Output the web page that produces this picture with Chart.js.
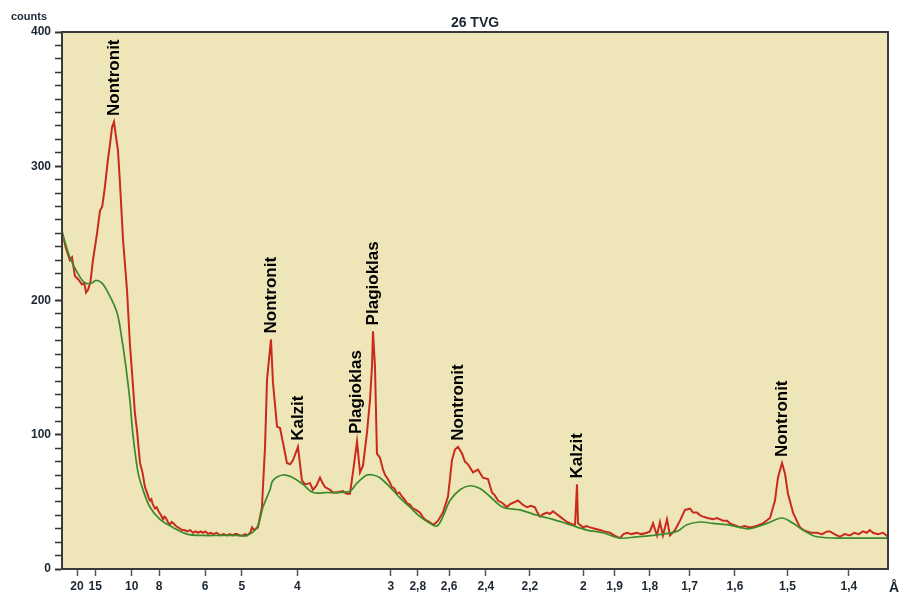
<!DOCTYPE html>
<html>
<head>
<meta charset="utf-8">
<title>26 TVG</title>
<script src="https://cdn.jsdelivr.net/npm/chart.js@4.4.1/dist/chart.umd.min.js"></script>
<style>
  html, body { margin: 0; padding: 0; background: #fff; }
  #wrap { width: 901px; height: 598px; }
</style>
</head>
<body>
<div id="wrap"><canvas id="xrd"></canvas></div>
<script>
// measured pattern (2-theta in degrees, counts)
var measured2T = [3.20,3.52,3.84,4.01,4.25,4.49,4.81,5.00,5.14,5.30,5.50,5.70,6.03,6.27,6.45,6.67,6.91,7.10,7.24,7.40,7.56,7.72,7.88,8.13,8.45,8.69,8.93,9.09,9.26,9.50,9.70,9.90,
  10.10,10.20,10.31,10.42,10.50,10.60,10.71,10.85,11.00,11.20,11.36,11.48,11.60,11.75,11.92,12.05,12.20,12.40,12.57,12.75,12.90,13.10,13.30,13.55,13.78,14.00,14.20,14.40,14.59,14.80,15.00,15.20,15.40,15.70,16.00,16.25,16.53,16.75,17.00,17.15,17.33,17.55,17.80,18.00,18.14,18.40,18.55,18.70,19.03,
  19.35,19.60,19.76,20.08,20.24,20.57,20.81,21.05,21.37,21.62,21.86,22.26,22.58,22.83,23.23,23.47,23.75,24.04,24.25,24.44,24.85,25.10,25.41,25.90,26.20,26.46,26.70,27.03,27.27,27.51,27.83,28.08,28.24,28.32,28.48,28.64,28.88,
  29.13,29.30,29.45,29.65,29.85,30.05,30.26,30.45,30.66,30.85,31.07,31.30,31.55,31.80,32.12,32.40,32.68,32.90,33.17,33.35,33.57,33.97,34.38,34.70,34.94,35.19,35.51,35.75,35.99,36.40,36.80,37.20,37.61,
  37.93,38.15,38.42,38.80,39.14,39.35,39.55,39.80,40.03,40.40,40.76,41.10,41.40,41.60,41.81,42.10,42.38,42.60,42.86,43.15,43.42,43.70,43.99,44.47,44.64,44.80,44.88,
  45.28,45.55,45.85,46.25,46.66,47.00,47.46,47.80,48.27,48.55,48.84,49.20,49.64,50.00,50.45,50.69,50.94,51.26,51.50,51.74,52.07,52.31,52.71,53.12,53.52,53.93,54.17,
  54.49,54.75,54.98,55.35,55.78,56.10,56.35,56.60,56.91,57.15,57.40,57.70,57.96,58.35,58.77,59.30,59.82,60.39,60.79,61.03,61.36,61.60,61.84,
  62.25,62.50,62.81,63.10,63.38,63.70,64.18,64.60,65.00,65.23,65.60,66.04,66.40,66.85,67.20,67.55,67.90,68.20,68.45,68.71,69.10,69.52,69.92];
var measuredCounts = [251,239,230,232,218,216,212,213,206,208,214,230,250,267,270,285,305,318,329,333,322,312,288,245,208,167,137,116,103,79,72,61,
  56,53,51,52,49,47,45,46,43,40,37,39,38,35,33,35,34,32,31,30,29,29,28,29,27,28,27,28,27,28,26,27,26,27,25,26,25,26,25,26,26,25,25,26,25,27,31,29,31,
  46,91,141,171,139,106,105,94,79,78,81,91,66,63,64,59,62,68,64,61,59,57,57,58,56,56,72,95,72,77,101,126,151,177,151,86,83,
  74,70,68,65,61,60,56,57,54,52,49,48,45,44,42,38,36,35,33,34,36,42,54,81,89,91,86,80,78,72,74,68,67,
  57,55,51,49,46,48,49,50,51,48,46,47,46,42,39,41,42,41,43,41,39,37,35,33,33,63,34,
  31,32,31,30,29,28,27,25,23,26,27,26,27,26,27,28,34,25,35,25,37,25,29,36,44,45,42,
  42,40,39,38,37,38,37,36,36,34,33,32,31,32,31,32,34,38,51,68,79,71,56,
  42,37,31,29,28,27,27,26,28,28,26,24,26,25,27,26,28,27,29,27,26,27,24];

// background curve
var background2T = [3.20,3.84,4.49,5.06,5.62,5.94,6.43,6.91,7.64,8.04,8.37,8.69,8.93,9.34,9.74,10.31,11.11,12.16,13.30,14.59,15.96,17.33,18.14,18.95,19.43,20.00,20.24,21.05,21.86,22.67,23.47,24.60,25.65,26.46,27.03,27.83,28.32,28.88,29.69,30.50,31.31,32.12,32.92,33.49,33.97,34.54,35.35,36.15,36.96,37.77,38.82,40.19,41.57,42.86,44.23,45.61,46.90,48.27,49.64,50.94,52.88,53.68,54.73,55.78,56.91,57.96,58.77,60.15,61.36,62.25,63.05,64.18,66.85,69.03,69.92];
var backgroundCounts = [251,232,220,213,213,215,213,206,191,171,150,125,100,72,59,46,37,31,26,25,25,25,25,31,46,59,66,70,68,63,57,57,57,58,64,70,70,68,61,53,46,39,34,32,39,51,59,62,60,54,46,44,40,37,33,29,27,23,24,25,28,33,35,34,33,31,30,34,38,34,29,24,23,23,23];

// d-spacing tick labels (Å)
var dTicks = [20, 15, 10, 8, 6, 5, 4, 3, 2.8, 2.6, 2.4, 2.2, 2, 1.9, 1.8, 1.7, 1.6, 1.5, 1.4];

// mineral labels over peaks
var peakNames = ['Nontronit', 'Nontronit', 'Kalzit', 'Plagioklas', 'Plagioklas', 'Nontronit', 'Kalzit', 'Nontronit'];
var peak2T = [7.40, 20.08, 22.26, 26.95, 28.32, 35.19, 44.80, 61.36];
var peakCounts = [333, 171, 91, 96, 177, 91, 63, 79];

var LAMBDA = 1.5406; // Cu K-alpha
function twoTheta(d) {
  return 2 * Math.asin(LAMBDA / (2 * d)) * 180 / Math.PI;
}

function pairs(xs, ys) {
  return xs.map(function (x, i) { return { x: x, y: ys[i] }; });
}

var textColor = '#1c2733';
var frameColor = '#3a3a3a';

var decorPlugin = {
  id: 'decor',
  beforeDraw: function (chart) {
    var a = chart.chartArea, ctx = chart.ctx;
    ctx.save();
    ctx.fillStyle = '#eee6b9';
    ctx.fillRect(a.left, a.top, a.right - a.left, a.bottom - a.top);
    ctx.restore();
  },
  afterDraw: function (chart) {
    var a = chart.chartArea, ctx = chart.ctx;
    var xs = chart.scales.x, ys = chart.scales.y;
    ctx.save();
    ctx.strokeStyle = frameColor;
    ctx.lineWidth = 2;
    ctx.strokeRect(a.left, a.top, a.right - a.left, a.bottom - a.top);

    ctx.fillStyle = textColor;
    ctx.font = 'bold 14px "Liberation Sans", Arial, sans-serif';
    ctx.textAlign = 'center';
    ctx.textBaseline = 'alphabetic';
    ctx.fillText('26 TVG', (a.left + a.right) / 2, a.top - 5);

    ctx.font = 'bold 11px "Liberation Sans", Arial, sans-serif';
    ctx.textAlign = 'left';
    ctx.textBaseline = 'middle';
    ctx.fillText('counts', 11, 17);

    ctx.font = 'bold 14px "Liberation Sans", Arial, sans-serif';
    ctx.fillText('Å', a.right + 1, 588);

    // peak names, rotated
    ctx.fillStyle = '#000';
    ctx.font = 'bold 17px "Liberation Sans", Arial, sans-serif';
    ctx.textAlign = 'left';
    ctx.textBaseline = 'middle';
    for (var i = 0; i < peakNames.length; i++) {
      var px = xs.getPixelForValue(peak2T[i]);
      var py = ys.getPixelForValue(peakCounts[i]) - 6;
      ctx.save();
      ctx.translate(px, py);
      ctx.rotate(-Math.PI / 2);
      ctx.fillText(peakNames[i], 0, 0);
      ctx.restore();
    }
    ctx.restore();
  }
};

var tickFont = { family: '"Liberation Sans", Arial, sans-serif', size: 12, weight: 'bold' };

new Chart(document.getElementById('xrd'), {
  type: 'line',
  data: {
    datasets: [
      {
        label: 'measured',
        data: pairs(measured2T, measuredCounts),
        borderColor: '#c92a1c',
        borderWidth: 2,
        pointRadius: 0,
        tension: 0,
        order: 1
      },
      {
        label: 'background',
        data: pairs(background2T, backgroundCounts),
        borderColor: '#3c8a2c',
        borderWidth: 1.7,
        pointRadius: 0,
        tension: 0.35,
        order: 0
      }
    ]
  },
  options: {
    responsive: true,
    maintainAspectRatio: false,
    animation: false,
    layout: { padding: { left: 0, right: 13, top: 32, bottom: 0 } },
    plugins: {
      legend: { display: false },
      tooltip: { enabled: false }
    },
    scales: {
      x: {
        type: 'linear',
        min: 3.2,
        max: 69.92,
        afterBuildTicks: function (scale) {
          scale.ticks = dTicks.map(function (d) { return { value: twoTheta(d) }; });
        },
        afterFit: function (scale) { scale.height = 29; },
        ticks: {
          autoSkip: false,
          maxRotation: 0,
          padding: 3,
          color: textColor,
          font: tickFont,
          callback: function (value, index) {
            return String(dTicks[index]).replace('.', ',');
          }
        },
        grid: { drawOnChartArea: false, tickLength: 7, tickColor: '#555', tickWidth: 1.5 },
        border: { color: frameColor, width: 2 }
      },
      y: {
        min: 0,
        max: 400,
        afterFit: function (scale) { scale.width = 62; },
        ticks: {
          stepSize: 10,
          autoSkip: false,
          padding: 4,
          color: textColor,
          font: tickFont,
          callback: function (value) { return value % 100 === 0 ? value : ''; }
        },
        grid: {
          drawOnChartArea: false,
          tickLength: 7,
          tickColor: '#333',
          tickWidth: function (ctx) { return ctx.tick && ctx.tick.value % 100 === 0 ? 2 : 1.5; }
        },
        border: { color: frameColor, width: 2 }
      }
    }
  },
  plugins: [decorPlugin]
});
</script>
</body>
</html>
